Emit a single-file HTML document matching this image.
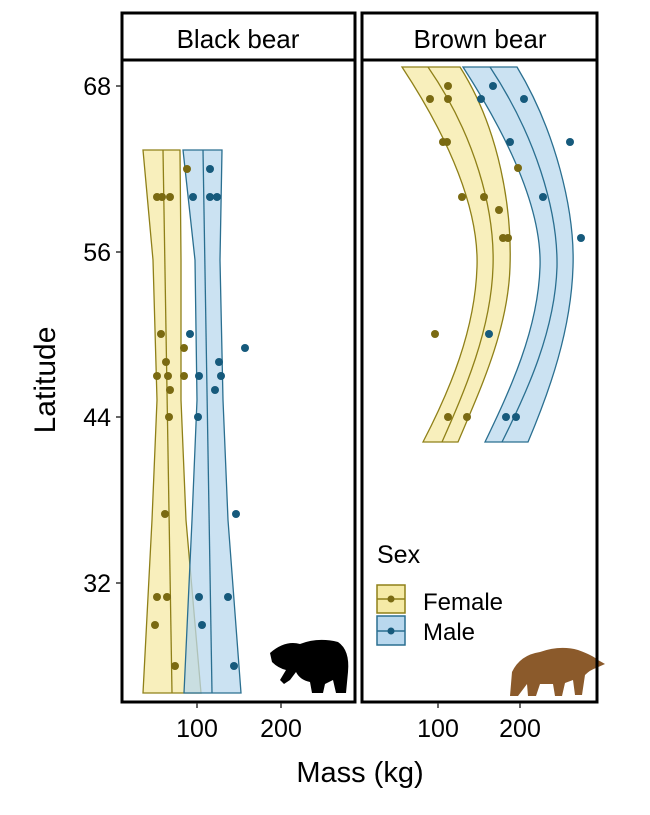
<!DOCTYPE html>
<html><head><meta charset="utf-8"><style>body{margin:0;background:#fff}svg{display:block}</style></head><body>
<svg width="650" height="815" viewBox="0 0 650 815" font-family="Liberation Sans, Arial, sans-serif">
<rect width="650" height="815" fill="#fff"/>
<rect x="122" y="13" width="233" height="47" fill="#fff" stroke="#000" stroke-width="3"/>
<rect x="362" y="13" width="235" height="47" fill="#fff" stroke="#000" stroke-width="3"/>
<text x="238" y="48" font-size="26" text-anchor="middle">Black bear</text>
<text x="480" y="48" font-size="26" text-anchor="middle">Brown bear</text>
<g stroke-width="1.3">
<path d="M143,150 L180,150 L181,260 L181,400 L186,520 L201,693 L143,693 L152,520 L157,400 L153,260 Z" fill="#f5eaa6" fill-opacity="0.75" stroke="#8f8018"/>
<path d="M163,150 Q168,420 172,693" fill="none" stroke="#8f8018"/>
<path d="M183,150 L222,150 L220,260 L223,400 L228,520 L241,693 L184,693 L192,520 L197,400 L195,260 Z" fill="#b9d8ee" fill-opacity="0.75" stroke="#2a6f90"/>
<path d="M203,150 Q207,420 212,693" fill="none" stroke="#2a6f90"/>
<path d="M402,67 L460,67 C500,130 512,210 510,267 C508,330 480,390 458,442 L423,442 C450,390 475,330 477,267 C479,210 450,140 402,67 Z" fill="#f5eaa6" fill-opacity="0.75" stroke="#8f8018"/>
<path d="M428,67 C475,135 495,210 493,267 C491,330 465,390 442,442" fill="none" stroke="#8f8018"/>
<path d="M463,67 L517,67 C555,130 575,210 573,267 C571,330 550,390 528,442 L485,442 C510,390 538,330 540,267 C542,210 510,140 463,67 Z" fill="#b9d8ee" fill-opacity="0.75" stroke="#2a6f90"/>
<path d="M490,67 C535,135 558,210 557,267 C555,330 528,390 502,442" fill="none" stroke="#2a6f90"/>
</g>
<g fill="#7a6a12">
<circle cx="187" cy="169" r="4"/><circle cx="157" cy="197" r="4"/><circle cx="162" cy="197" r="4"/><circle cx="170" cy="197" r="4"/>
<circle cx="161" cy="334" r="4"/><circle cx="184" cy="348" r="4"/><circle cx="166" cy="362" r="4"/><circle cx="157" cy="376" r="4"/><circle cx="168" cy="376" r="4"/><circle cx="184" cy="376" r="4"/><circle cx="170" cy="390" r="4"/><circle cx="169" cy="417" r="4"/><circle cx="165" cy="514" r="4"/><circle cx="157" cy="597" r="4"/><circle cx="167" cy="597" r="4"/><circle cx="155" cy="625" r="4"/><circle cx="175" cy="666" r="4"/>
<circle cx="448" cy="86" r="4"/><circle cx="430" cy="99" r="4"/><circle cx="448" cy="99" r="4"/><circle cx="443" cy="142" r="4"/><circle cx="447" cy="142" r="4"/><circle cx="518" cy="168" r="4"/><circle cx="462" cy="197" r="4"/><circle cx="484" cy="197" r="4"/><circle cx="499" cy="210" r="4"/><circle cx="503" cy="238" r="4"/><circle cx="508" cy="238" r="4"/><circle cx="435" cy="334" r="4"/><circle cx="448" cy="417" r="4"/><circle cx="467" cy="417" r="4"/>
</g>
<g fill="#165a7c">
<circle cx="210" cy="169" r="4"/><circle cx="193" cy="197" r="4"/><circle cx="210" cy="197" r="4"/><circle cx="217" cy="197" r="4"/><circle cx="190" cy="334" r="4"/><circle cx="245" cy="348" r="4"/><circle cx="219" cy="362" r="4"/><circle cx="199" cy="376" r="4"/><circle cx="221" cy="376" r="4"/><circle cx="215" cy="390" r="4"/><circle cx="198" cy="417" r="4"/><circle cx="236" cy="514" r="4"/><circle cx="199" cy="597" r="4"/><circle cx="228" cy="597" r="4"/><circle cx="202" cy="625" r="4"/><circle cx="234" cy="666" r="4"/>
<circle cx="493" cy="86" r="4"/><circle cx="481" cy="99" r="4"/><circle cx="524" cy="99" r="4"/><circle cx="570" cy="142" r="4"/><circle cx="510" cy="142" r="4"/><circle cx="543" cy="197" r="4"/><circle cx="581" cy="238" r="4"/><circle cx="489" cy="334" r="4"/><circle cx="506" cy="417" r="4"/><circle cx="516" cy="417" r="4"/>
</g>
<path d="M270,653 Q285,640 300,644 Q318,637 338,642 Q350,650 348,672 L346,693 L336,693 L333,680 L325,684 L323,693 L312,693 L310,682 Q300,680 296,672 L290,680 L284,684 L280,680 L286,670 Q278,668 272,662 Z" fill="#000"/>
<path d="M512,672 Q520,655 540,652 Q560,645 578,650 Q592,655 598,660 L605,664 L596,668 Q590,670 585,675 L582,695 L575,695 L573,680 L565,683 L562,696 L555,696 L553,684 L540,684 L536,696 L528,696 L527,684 L518,696 L510,696 Z" fill="#8b5a2b"/>
<rect x="122" y="60" width="233" height="642" fill="none" stroke="#000" stroke-width="3"/>
<rect x="362" y="60" width="235" height="642" fill="none" stroke="#000" stroke-width="3"/>
<g stroke="#333" stroke-width="1.5"><line x1="116" y1="86" x2="121" y2="86"/><line x1="116" y1="252" x2="121" y2="252"/><line x1="116" y1="417" x2="121" y2="417"/><line x1="116" y1="583" x2="121" y2="583"/>
<line x1="197" y1="703" x2="197" y2="708"/><line x1="281" y1="703" x2="281" y2="708"/><line x1="438" y1="703" x2="438" y2="708"/><line x1="520" y1="703" x2="520" y2="708"/></g>
<g font-size="25" text-anchor="end"><text x="111" y="95">68</text><text x="111" y="261">56</text><text x="111" y="426">44</text><text x="111" y="592">32</text></g>
<g font-size="25" text-anchor="middle"><text x="197" y="737">100</text><text x="281" y="737">200</text><text x="438" y="737">100</text><text x="520" y="737">200</text></g>
<text x="360" y="782" font-size="29" text-anchor="middle">Mass (kg)</text>
<text transform="translate(55,380) rotate(-90)" font-size="30" text-anchor="middle">Latitude</text>
<text x="377" y="563" font-size="25">Sex</text>
<rect x="377" y="585" width="28" height="28" fill="#f5eaa6" stroke="#8f8018" stroke-width="1.5"/>
<line x1="377" y1="599" x2="405" y2="599" stroke="#8f8018" stroke-width="1.5"/><circle cx="391" cy="599" r="3.5" fill="#7a6a12"/>
<rect x="377" y="616" width="28" height="29" fill="#b9d8ee" stroke="#2a6f90" stroke-width="1.5"/>
<line x1="377" y1="631" x2="405" y2="631" stroke="#2a6f90" stroke-width="1.5"/><circle cx="391" cy="631" r="3.5" fill="#165a7c"/>
<text x="423" y="610" font-size="24">Female</text>
<text x="423" y="640" font-size="24">Male</text>
</svg>
</body></html>
